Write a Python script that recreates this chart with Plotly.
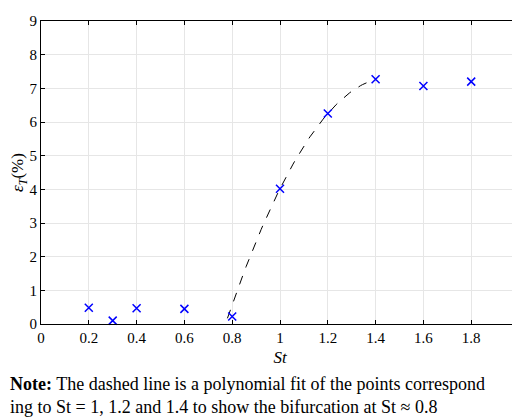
import numpy as np
import plotly.graph_objects as go

st = [0.2, 0.3, 0.4, 0.6, 0.8, 1.0, 1.2, 1.4, 1.6, 1.8, 2.0]
eps_t = [0.48, 0.1, 0.47, 0.45, 0.22, 4.02, 6.25, 7.27, 7.07, 7.2, 8.45]
fit_st = [1.0, 1.2, 1.4]
fit_eps = [4.02, 6.25, 7.27]

coef = np.polyfit(fit_st, fit_eps, 2)
xs = np.linspace(0.78, 1.4, 80)
ys = np.polyval(coef, xs)

font = "Times New Roman, Liberation Serif, DejaVu Serif, serif"
fig = go.Figure()
fig.add_trace(go.Scatter(x=xs, y=ys, mode="lines",
                         line=dict(color="black", width=1, dash="dash")))
fig.add_trace(go.Scatter(x=st, y=eps_t, mode="markers", cliponaxis=False,
                         marker=dict(symbol="x-thin", size=8, color="blue",
                                     line=dict(color="blue", width=1.5))))

axis = dict(showline=True, linecolor="black", linewidth=1, mirror="ticks",
            ticks="inside", ticklen=4, tickcolor="black", ticklabeloverflow="allow",
            showgrid=True, gridcolor="#e6e6e6", zeroline=False,
            tickfont=dict(family=font, size=15, color="black"))
fig.update_xaxes(range=[0, 2], dtick=0.2, tickformat="~g", **axis,
                 title=dict(text="<i>St</i>", font=dict(family=font, size=17, color="black"), standoff=6))
fig.update_yaxes(range=[0, 9], dtick=1, **axis,
                 title=dict(text="<i>ε<sub>T</sub></i>(%)", font=dict(family=font, size=17, color="black"), standoff=4))

fig.add_annotation(xref="paper", yref="paper", x=-0.07, y=-0.16, xanchor="left", yanchor="top",
                   align="left", showarrow=False,
                   font=dict(family=font, size=18, color="black"),
                   text="<b>Note:</b> The dashed line is a polynomial fit of the points correspond<br>"
                        "ing to St = 1, 1.2 and 1.4 to show the bifurcation at St ≈ 0.8")

fig.update_layout(width=520, height=420, showlegend=False,
                  margin=dict(l=33, r=5, t=8, b=104),
                  paper_bgcolor="white", plot_bgcolor="white")
fig.write_html("out.html")
